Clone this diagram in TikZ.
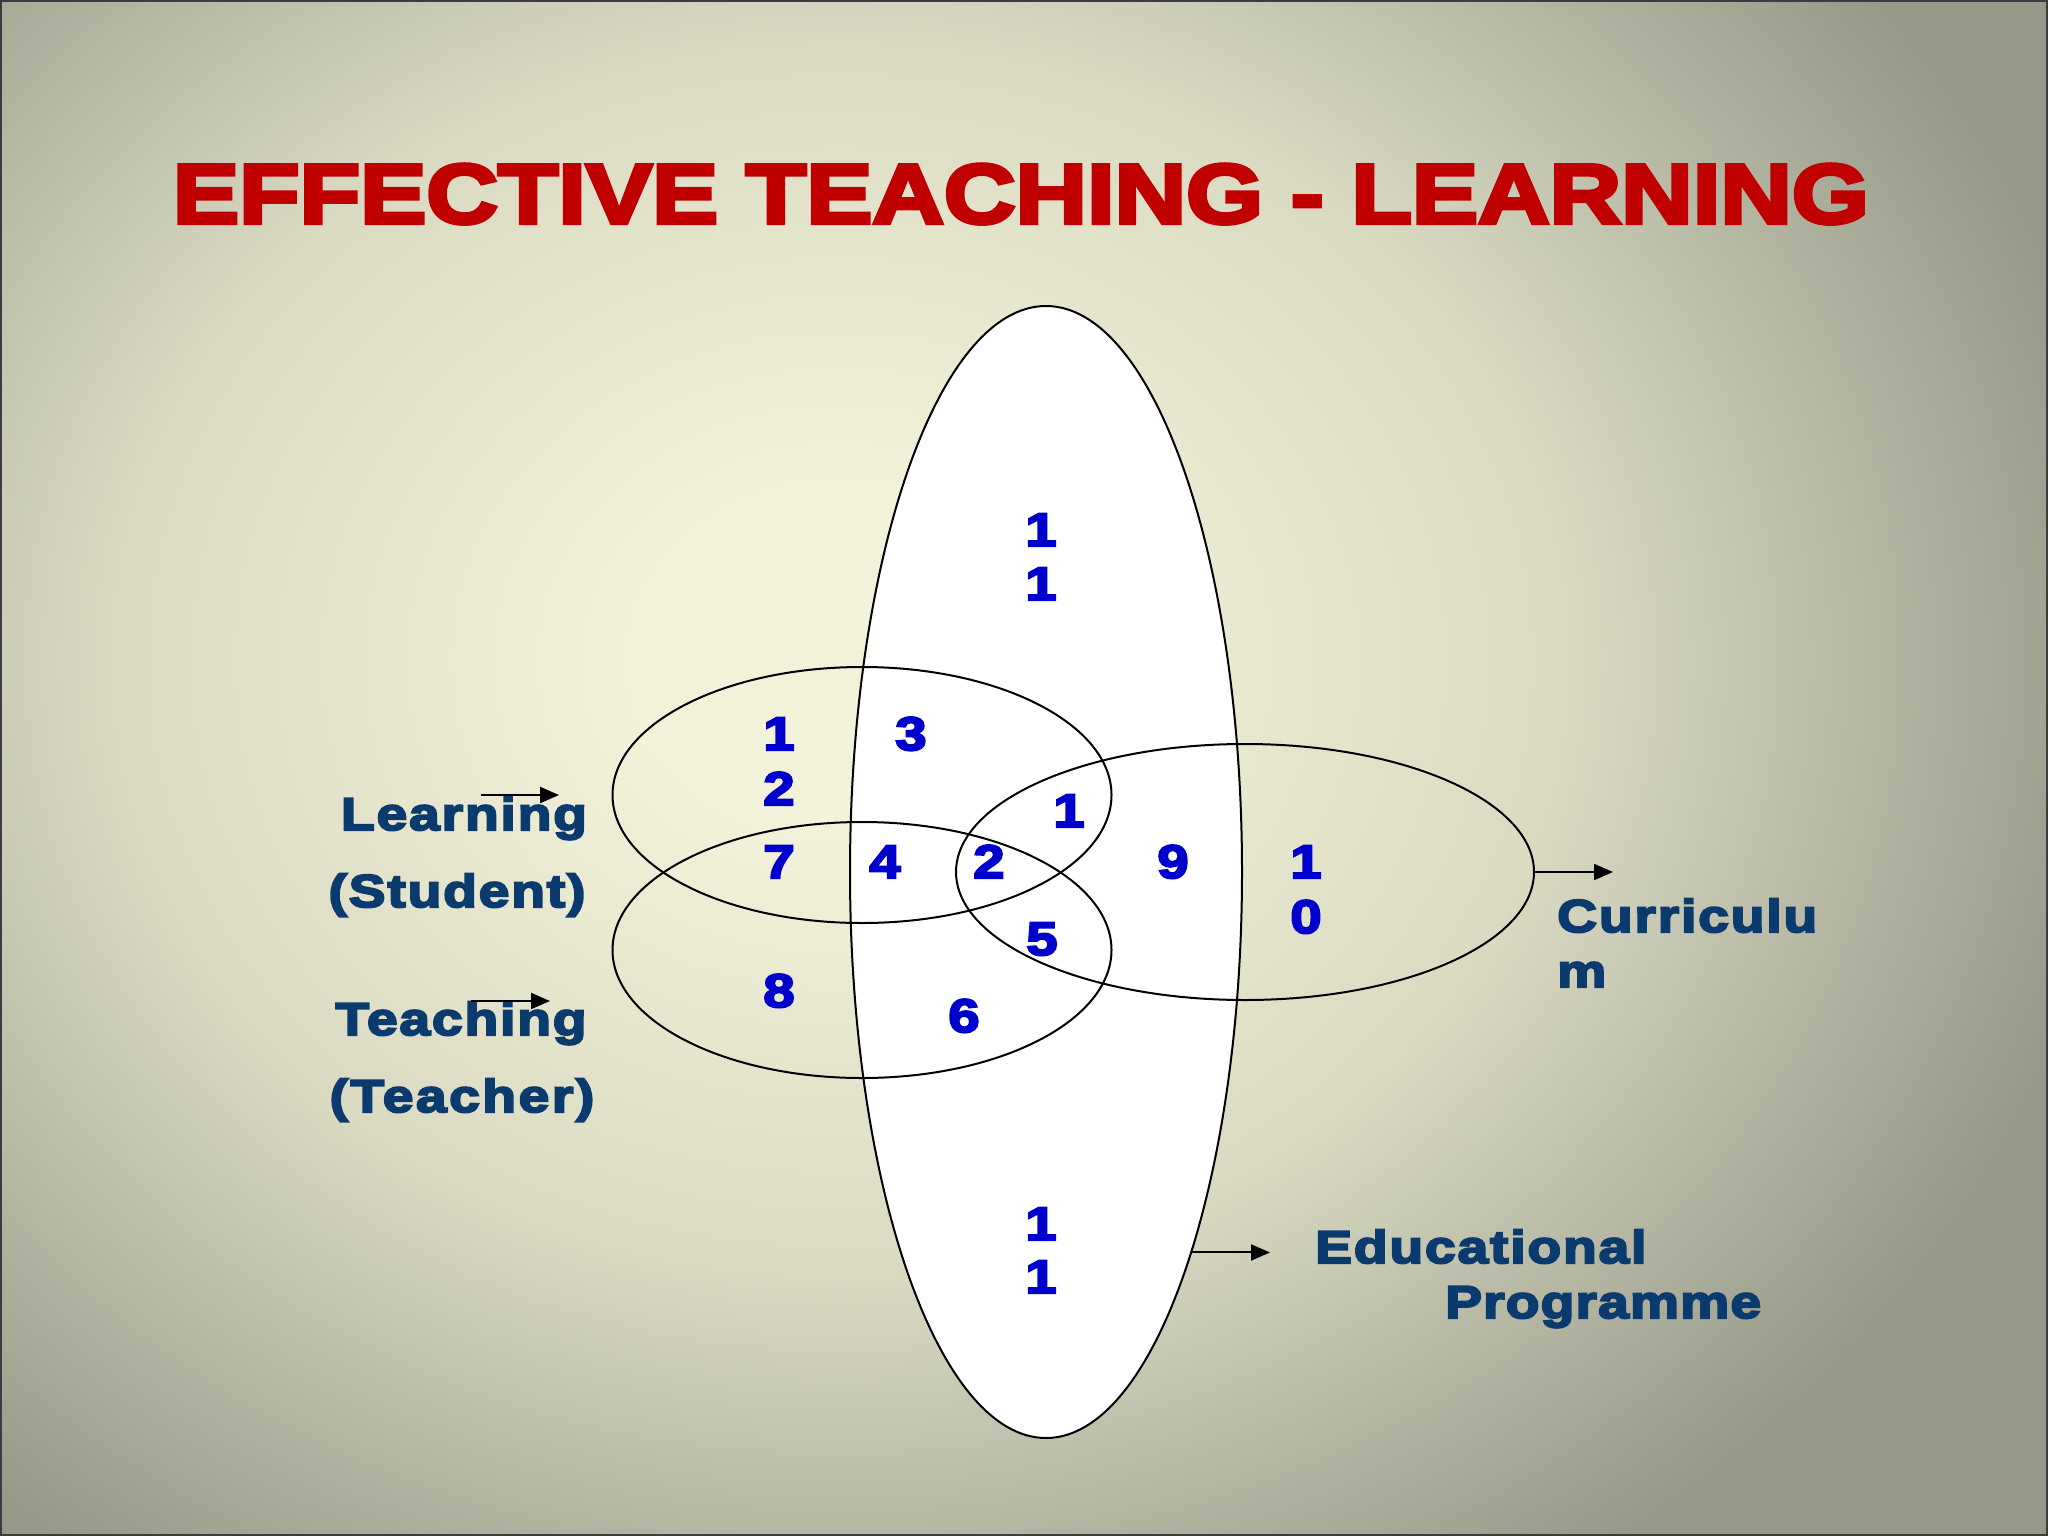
\documentclass[tikz,border=0pt]{standalone}
\usepackage{fontspec}
\usetikzlibrary{shapes.geometric,arrows.meta}
\setmainfont{Liberation Sans}
\newfontfamily\heavy{Liberation Sans}[FakeStretch=1.2,BoldFeatures={FakeBold=4.5}]
\newfontfamily\titlefont{Liberation Sans}[FakeStretch=1.18,BoldFeatures={FakeBold=5}]
\definecolor{titlered}{HTML}{C00000}
\definecolor{labelnavy}{HTML}{0B3A6F}
\definecolor{numblue}{HTML}{0000CC}
\definecolor{bgA}{HTML}{F2F2DA}
\definecolor{bgB}{HTML}{DADAC3}
\definecolor{bgC}{HTML}{B4B6A2}
\definecolor{bgD}{HTML}{969988}
\definecolor{framegray}{HTML}{3C3C3C}
\pgfdeclareradialshading{bgshade}{\pgfpoint{0bp}{0bp}}{color(0bp)=(bgA); color(4bp)=(bgA); color(14bp)=(bgB); color(20bp)=(bgC); color(25bp)=(bgD); color(50bp)=(bgD)}
\tikzset{
  ring/.style={draw=black,line width=2pt,ellipse,inner sep=0pt},
  num/.style={font=\heavy\bfseries\fontsize{47}{47}\selectfont,text=numblue,anchor=base,inner sep=0pt},
  lbl/.style={font=\heavy\bfseries\fontsize{46}{46}\selectfont\addfontfeatures{LetterSpace=4},text=labelnavy,inner sep=0pt},
  pointer/.style={-{Triangle[length=19pt,width=16pt]},line width=2pt},
}
\begin{document}
\begin{tikzpicture}[x=1pt,y=-1pt]
\useasboundingbox (0,0) rectangle (2048,1536);
% background
\fill[bgD] (0,0) rectangle (2048,1536);
\begin{scope}
  \clip (0,0) rectangle (2048,1536);
  \shade[shading=bgshade] (840,660) ellipse [x radius=1300pt, y radius=1100pt];
\end{scope}
\draw[framegray,line width=2pt] (1,1) rectangle (2047,1535);
% title
\node[font=\titlefont\bfseries\fontsize{84}{84}\selectfont,text=titlered,anchor=base,inner sep=0pt] (title) at (1021,223) {EFFECTIVE TEACHING - LEARNING};
% ellipses
\node[ring,fill=white,minimum width=392pt,minimum height=1132pt] (edu) at (1046,872) {};
\node[ring,minimum width=499pt,minimum height=256pt] (learn) at (862,795) {};
\node[ring,minimum width=499pt,minimum height=256pt] (teach) at (862,950) {};
\node[ring,minimum width=578pt,minimum height=256pt] (curr) at (1245,872) {};
% numbers
\node[num] (n11a) at (1041,546) {1};
\node[num] (n11b) at (1041,600) {1};
\node[num] (n12a) at (779,750) {1};
\node[num] (n12b) at (779,805) {2};
\node[num] (n3) at (911,750) {3};
\node[num] (n1) at (1069,827) {1};
\node[num] (n7) at (779,878) {7};
\node[num] (n4) at (885,878) {4};
\node[num] (n2) at (989,878) {2};
\node[num] (n9) at (1173,878) {9};
\node[num] (n10a) at (1306,878) {1};
\node[num] (n10b) at (1306,933) {0};
\node[num] (n5) at (1042,955) {5};
\node[num] (n8) at (779,1007) {8};
\node[num] (n6) at (964,1032) {6};
\node[num] (n11c) at (1041,1240) {1};
\node[num] (n11d) at (1041,1293) {1};
% labels
\node[lbl,anchor=base] (lLearn) at (464,830) {Learning};
\node[lbl,anchor=base] (lStudent) at (457,907) {(Student)};
\node[lbl,anchor=base] (lTeach) at (461,1035) {Teaching};
\node[lbl,anchor=base,font=\heavy\bfseries\fontsize{46}{46}\selectfont\addfontfeatures{LetterSpace=5.5}] (lTeacher) at (462,1112) {(Teacher)};
\node[lbl,anchor=base west] (lCurr) at (1557,932) {Curriculu};
\node[lbl,anchor=base west] (lCurrM) at (1557,987) {m};
\node[lbl,anchor=base west] (lEdu) at (1315,1263) {Educational};
\node[lbl,anchor=base west,font=\heavy\bfseries\fontsize{46}{46}\selectfont\addfontfeatures{LetterSpace=2.5}] (lProg) at (1445,1318) {Programme};
% arrows
\coordinate (la1) at (481,795);
\coordinate (la2) at (559,795);
\coordinate (ta1) at (471,1001);
\coordinate (ta2) at (550,1001);
\coordinate (cEnd) at (1613,872);
\coordinate (eEnd) at (1270,1258);
\draw[pointer] (la1) -- (la2);
\draw[pointer] (ta1) -- (ta2);
\draw[pointer] (curr.east) -- (cEnd);
\draw[pointer] (edu.-69.7) -- (edu.-69.7 -| eEnd);
\end{tikzpicture}
\end{document}
